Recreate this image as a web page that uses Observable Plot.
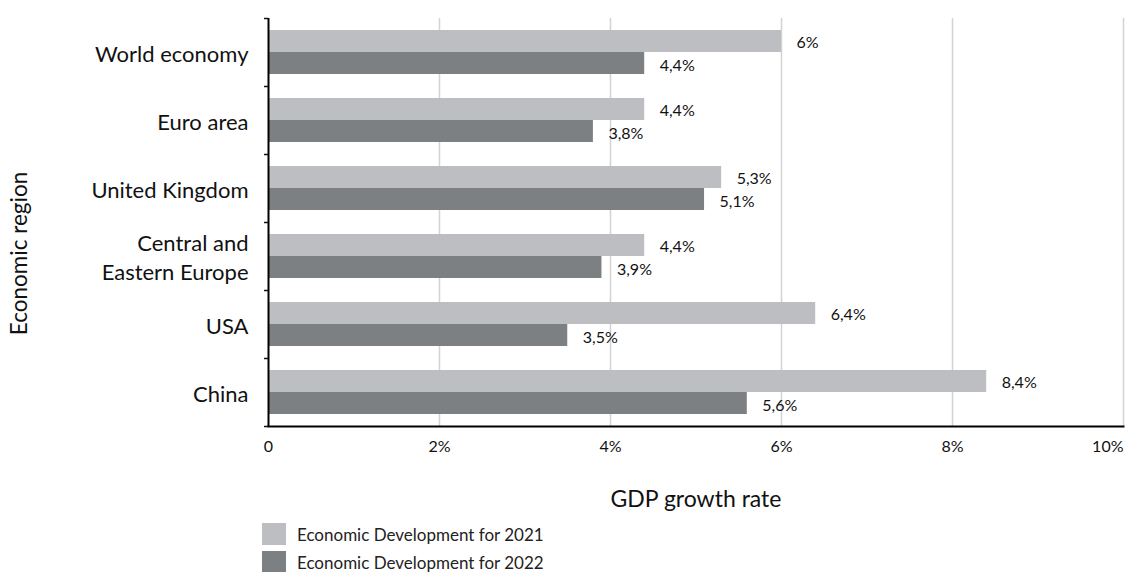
<!DOCTYPE html>
<html>
<head>
<meta charset="utf-8">
<script src="https://cdn.jsdelivr.net/npm/d3@7"></script>
<script src="https://cdn.jsdelivr.net/npm/@observablehq/plot@0.6"></script>
<style>
  body { margin: 0; background: #fff; font-family: Lato, "Open Sans", sans-serif; }
  #legend { margin-left: 262px; margin-top: 5px; font-size: 17px; color: #222; }
  .row { display: flex; align-items: center; height: 22px; margin-bottom: 6px; }
  .sw { width: 24px; height: 22px; margin-right: 11px; }
</style>
</head>
<body>
<div id="chart"></div>
<div id="legend"></div>
<script>
const regions = ["World economy", "Euro area", "United Kingdom", "Central and\nEastern Europe", "USA", "China"];
const growth2021 = [6.0, 4.4, 5.3, 4.4, 6.4, 8.4];
const growth2022 = [4.4, 3.8, 5.1, 3.9, 3.5, 5.6];
const seriesNames = ["Economic Development for 2021", "Economic Development for 2022"];
const seriesColors = ["#bdbec1", "#7d8083"];
const xTicks = [0, 2, 4, 6, 8];
const lastTick = [10];
const gridTicks = [2, 4, 6, 8, 10];
const xTitle = "GDP growth rate";
const yTitle = "Economic region";

const d21 = regions.map((r, i) => ({region: r, value: growth2021[i]}));
const d22 = regions.map((r, i) => ({region: r, value: growth2022[i]}));
const fmt = v => String(v).replace(".", ",") + "%";
const tickFmt = d => d === 0 ? "0" : d + "%";

const plot = Plot.plot({
  width: 1133,
  height: 518,
  marginLeft: 268,
  marginRight: 10,
  marginTop: 18,
  marginBottom: 92,
  style: {fontFamily: "Lato, 'Open Sans', sans-serif", color: "#111"},
  x: {domain: [0, 10]},
  y: {domain: regions, padding: 0},
  marks: [
    Plot.gridX(gridTicks, {stroke: "#d3d3d3", strokeOpacity: 1, strokeWidth: 1.5}),
    Plot.barX(d21, {y: "region", x: "value", fill: seriesColors[0], insetTop: 12, insetBottom: 34}),
    Plot.barX(d22, {y: "region", x: "value", fill: seriesColors[1], insetTop: 34, insetBottom: 12}),
    Plot.text(d21, {y: "region", x: "value", text: d => fmt(d.value), dx: 15, dy: -10, textAnchor: "start", fontSize: 16, fill: "#111"}),
    Plot.text(d22, {y: "region", x: "value", text: d => fmt(d.value), dx: 15, dy: 13, textAnchor: "start", fontSize: 16, fill: "#111"}),
    Plot.frame({anchor: "bottom", stroke: "#000", strokeWidth: 2}),
    Plot.ruleX([0], {stroke: "#000", strokeWidth: 2}),
    Plot.axisX(xTicks, {tickSize: 0, tickPadding: 14, fontSize: 16, tickFormat: tickFmt, label: null}),
    Plot.axisX(lastTick, {tickSize: 0, tickPadding: 14, fontSize: 16, tickFormat: tickFmt, textAnchor: "end", dx: 0, label: null}),
    Plot.text([xTitle], {frameAnchor: "bottom", dy: 80, fontSize: 23, fill: "#111"}),
    Plot.text([yTitle], {frameAnchor: "left", textAnchor: "middle", dx: -249, dy: 31, rotate: -90, fontSize: 22.5, fill: "#111"}),
    Plot.axisY({tickSize: 0, tickPadding: 20, fontSize: 22, lineHeight: 1.3, label: null}),
    Plot.axisY({tickSize: 4, tickFormat: () => "", dy: -34, label: null, strokeWidth: 1.5}),
    Plot.axisY(["China"], {tickSize: 4, tickFormat: () => "", dy: 34, label: null, strokeWidth: 1.5})
  ]
});
document.getElementById("chart").appendChild(plot);

const legend = document.getElementById("legend");
seriesNames.forEach((n, i) => {
  const row = document.createElement("div");
  row.className = "row";
  row.innerHTML = `<div class="sw" style="background:${seriesColors[i]}"></div><span>${n}</span>`;
  legend.appendChild(row);
});
</script>
</body>
</html>
